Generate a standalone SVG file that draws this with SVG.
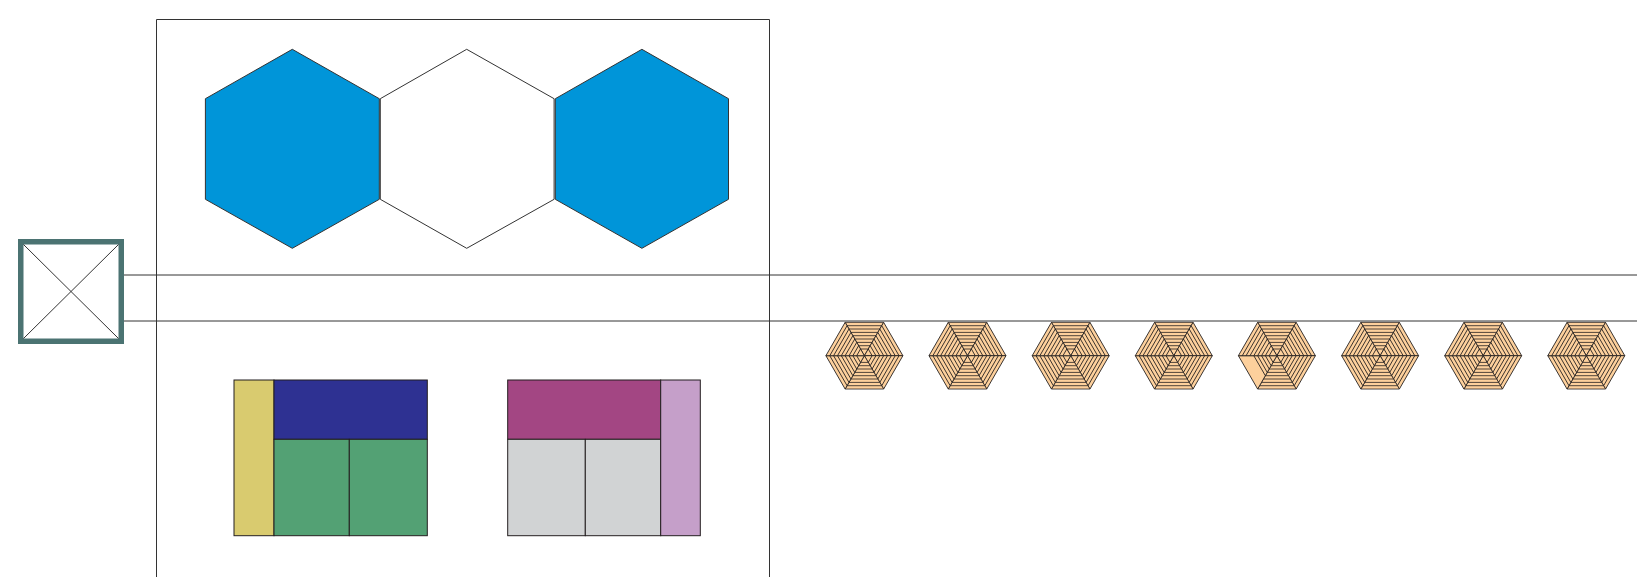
<svg xmlns="http://www.w3.org/2000/svg" xmlns:xlink="http://www.w3.org/1999/xlink" width="1637" height="577" viewBox="0 0 1637 577">
<style>
.ln{fill:none;stroke:#333;stroke-width:1}
.hx{stroke:#333;stroke-width:1}
.cell{stroke:#231f20;stroke-width:1}
.tri{fill:#fdd09c;stroke:#231f20;stroke-width:0.8;stroke-linejoin:round}
.ht{stroke:#231f20;stroke-width:0.8}
</style>
<defs>
<g id="triPartial">
<polygon class="tri" points="0,0 -19.25,-33.34 19.25,-33.34"/>
<line class="ht" x1="-11.55" y1="-20" x2="11.55" y2="-20"/>
<line class="ht" x1="-9.64" y1="-16.7" x2="9.64" y2="-16.7"/>
<line class="ht" x1="-7.68" y1="-13.3" x2="7.68" y2="-13.3"/>
<line class="ht" x1="-5.77" y1="-10" x2="5.77" y2="-10"/>
<line class="ht" x1="-3.87" y1="-6.7" x2="3.87" y2="-6.7"/>
</g>
<g id="tri">
<polygon class="tri" points="0,0 -19.25,-33.34 19.25,-33.34"/>
<line class="ht" x1="-17.32" y1="-30" x2="17.32" y2="-30"/>
<line class="ht" x1="-15.41" y1="-26.7" x2="15.41" y2="-26.7"/>
<line class="ht" x1="-13.45" y1="-23.3" x2="13.45" y2="-23.3"/>
<line class="ht" x1="-11.55" y1="-20" x2="11.55" y2="-20"/>
<line class="ht" x1="-9.64" y1="-16.7" x2="9.64" y2="-16.7"/>
<line class="ht" x1="-7.68" y1="-13.3" x2="7.68" y2="-13.3"/>
<line class="ht" x1="-5.77" y1="-10" x2="5.77" y2="-10"/>
<line class="ht" x1="-3.87" y1="-6.7" x2="3.87" y2="-6.7"/>
</g>
<g id="hexH">
<use xlink:href="#tri"/>
<use xlink:href="#tri" transform="rotate(60)"/>
<use xlink:href="#tri" transform="rotate(120)"/>
<use xlink:href="#tri" transform="rotate(180)"/>
<use xlink:href="#tri" transform="rotate(240)"/>
<use xlink:href="#tri" transform="rotate(300)"/>
</g>
</defs>

<g id="connectors">
<line class="ln" x1="124" y1="275" x2="1637" y2="275"/>
<line class="ln" x1="124" y1="321" x2="1637" y2="321"/>
</g>

<g id="frame">
<polyline class="ln" points="156.5,577 156.5,19.5 769.5,19.5 769.5,577"/>
</g>

<g id="source">
<rect x="20.75" y="241.75" width="100.5" height="99.5" fill="#fff" stroke="#4b7372" stroke-width="5.5"/>
<line x1="23.5" y1="244.5" x2="118.5" y2="338.5" stroke="#333" stroke-width="1"/>
<line x1="118.5" y1="244.5" x2="23.5" y2="338.5" stroke="#333" stroke-width="1"/>
</g>

<g id="hex-left">
<polygon class="hx" fill="#0095d9" points="292.3,49.3 379.3,98.7 379.3,199.3 292.3,248.3 205.4,199.3 205.4,98.7"/>
</g>
<g id="hex-middle">
<polygon class="hx" fill="#fff" points="466.7,49.3 554.1,98.7 554.1,199.3 466.7,248.3 380.3,199.3 380.3,98.7"/>
</g>
<g id="hex-right">
<polygon class="hx" fill="#0095d9" points="641.9,49.3 728.5,98.7 728.5,199.3 641.9,248.3 555.3,199.3 555.3,98.7"/>
</g>

<g id="block-left">
<rect class="cell" x="234" y="380" width="40" height="155.7" fill="#d9cb6f"/>
<rect class="cell" x="274" y="380" width="153.3" height="59.3" fill="#2e3192"/>
<rect class="cell" x="274" y="439.3" width="75.3" height="96.4" fill="#53a174"/>
<rect class="cell" x="349.3" y="439.3" width="78" height="96.4" fill="#53a174"/>
</g>

<g id="block-right">
<rect class="cell" x="507.7" y="380" width="153" height="59.3" fill="#a34683"/>
<rect class="cell" x="507.7" y="439.3" width="77.6" height="96.4" fill="#d1d3d4"/>
<rect class="cell" x="585.3" y="439.3" width="75.4" height="96.4" fill="#d1d3d4"/>
<rect class="cell" x="660.7" y="380" width="39.6" height="155.7" fill="#c59fc9"/>
</g>

<g id="small-hex-1"><use xlink:href="#hexH" transform="translate(864.4,355.7)"/></g>
<g id="small-hex-2"><use xlink:href="#hexH" transform="translate(967.5,355.7)"/></g>
<g id="small-hex-3"><use xlink:href="#hexH" transform="translate(1070.7,355.7)"/></g>
<g id="small-hex-4"><use xlink:href="#hexH" transform="translate(1173.8,355.7)"/></g>
<g id="small-hex-5" transform="translate(1276.9,355.7)">
<use xlink:href="#tri"/>
<use xlink:href="#tri" transform="rotate(60)"/>
<use xlink:href="#tri" transform="rotate(120)"/>
<use xlink:href="#tri" transform="rotate(180)"/>
<use xlink:href="#triPartial" transform="rotate(240)"/>
<use xlink:href="#tri" transform="rotate(300)"/>
</g>
<g id="small-hex-6"><use xlink:href="#hexH" transform="translate(1380.1,355.7)"/></g>
<g id="small-hex-7"><use xlink:href="#hexH" transform="translate(1483.2,355.7)"/></g>
<g id="small-hex-8"><use xlink:href="#hexH" transform="translate(1586.3,355.7)"/></g>
</svg>
